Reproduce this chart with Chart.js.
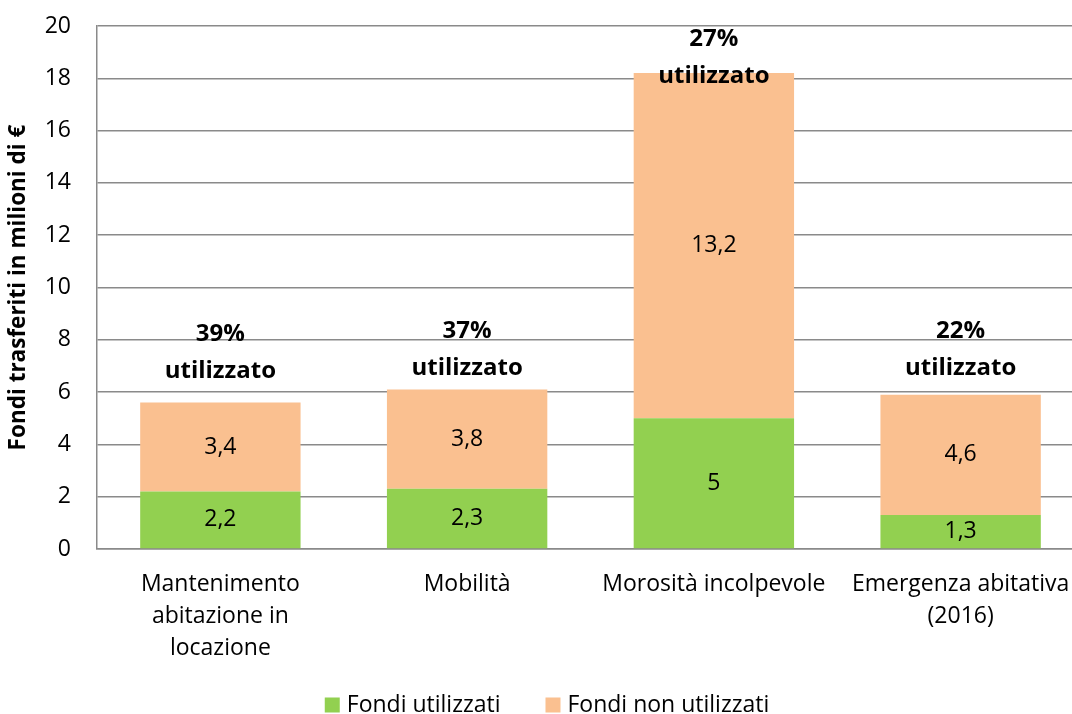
<!DOCTYPE html>
<html><head><meta charset="utf-8">
<script src="https://cdn.jsdelivr.net/npm/chart.js@4/dist/chart.umd.min.js"></script>
<style>html,body{margin:0;padding:0;overflow:hidden;background:#fff}#wrap{width:1090px;height:714px;position:relative}</style>
</head><body><div id="wrap"><canvas id="c"></canvas></div>
<script>
// ---- data ----
const categories = [['Mantenimento','abitazione in','locazione'], ['Mobilità'], ['Morosità incolpevole'], ['Emergenza abitativa','(2016)']];
const usedFunds = [2.2, 2.3, 5, 1.3];
const unusedFunds = [3.4, 3.8, 13.2, 4.6];
const usedShareLabels = ['39%', '37%', '27%', '22%'];
const noteWord = 'utilizzato';
const seriesNames = ['Fondi utilizzati', 'Fondi non utilizzati'];
const yTitle = 'Fondi trasferiti in milioni di €';
const yMin = 0, yMax = 20, yStep = 2;

// ---- style ----
const FONT = "'Open Sans', sans-serif";
const COLORS = ['#92D050', '#FAC090'];
const GRID = '#8a8a8a';
const noteOffsets = [-31, -21, 3, -27]; // px from bar top to centre of "utilizzato"

const fmt = v => String(v).replace('.', ',');

const labelPlugin = {
  id: 'labels',
  afterDatasetsDraw(chart) {
    const ctx = chart.ctx;
    ctx.save();
    ctx.textAlign = 'center';
    ctx.textBaseline = 'middle';
    ctx.fillStyle = '#000';
    ctx.font = `23px ${FONT}`;
    chart.data.datasets.forEach((ds, di) => {
      const meta = chart.getDatasetMeta(di);
      meta.data.forEach((el, i) => {
        const cy = (el.y + el.base) / 2;
        ctx.fillText(fmt(ds.data[i]), el.x, cy);
      });
    });
    const topMeta = chart.getDatasetMeta(chart.data.datasets.length - 1);
    ctx.font = `bold 24px ${FONT}`;
    topMeta.data.forEach((el, i) => {
      const y2 = el.y + noteOffsets[i];
      ctx.fillText(noteWord, el.x, y2);
      ctx.fillText(usedShareLabels[i], el.x, y2 - 37);
    });
    ctx.restore();
  },
  afterDraw(chart) {
    const ctx = chart.ctx;
    ctx.save();
    ctx.font = `23px ${FONT}`;
    ctx.textBaseline = 'middle';
    ctx.textAlign = 'left';
    const items = chart.data.datasets.map(d => ({ text: d.label, color: d.backgroundColor, w: ctx.measureText(d.label).width }));
    const box = 15, gap = 7, spacing = 45;
    let total = items.reduce((s, it) => s + box + gap + it.w, 0) + spacing * (items.length - 1);
    let x = 547 - total / 2;
    const cy = 705;
    items.forEach(it => {
      ctx.fillStyle = it.color;
      ctx.fillRect(x, cy - box / 2, box, box);
      ctx.fillStyle = '#000';
      ctx.fillText(it.text, x + box + gap, cy);
      x += box + gap + it.w + spacing;
    });
    ctx.restore();
  }
};

new Chart(document.getElementById('c'), {
  type: 'bar',
  data: {
    labels: categories,
    datasets: [
      { label: seriesNames[0], data: usedFunds, backgroundColor: COLORS[0], stack: 's' },
      { label: seriesNames[1], data: unusedFunds, backgroundColor: COLORS[1], stack: 's' }
    ]
  },
  options: {
    responsive: true, maintainAspectRatio: false, animation: false,
    layout: { padding: { top: 26, right: 6, left: 0, bottom: 0 } },
    datasets: { bar: { barPercentage: 0.65, categoryPercentage: 1 } },
    plugins: { legend: { display: false }, tooltip: { enabled: false } },
    scales: {
      x: {
        stacked: true,
        grid: { display: false, drawTicks: false },
        border: { color: GRID, width: 1.5 },
        ticks: { font: { family: FONT, size: 23, lineHeight: 1.4 }, color: '#000', padding: 19, maxRotation: 0, autoSkip: false },
        afterFit(s) { s.height = 165; s.paddingLeft = 0; s.paddingRight = 0; }
      },
      y: {
        stacked: true, min: yMin, max: yMax,
        ticks: { stepSize: yStep, font: { family: FONT, size: 23 }, color: '#000', padding: 26 },
        grid: { color: GRID, lineWidth: 1.5, drawTicks: false },
        border: { color: GRID, width: 1.5 },
        title: { display: true, text: yTitle, color: '#000', font: { family: FONT, size: 22.5, weight: 'bold' }, padding: { top: 5, bottom: 0 } },
        afterFit(s) { s.width = 97; s.paddingTop = 0; s.paddingBottom = 0; }
      }
    }
  },
  plugins: [labelPlugin]
});
</script></body></html>
